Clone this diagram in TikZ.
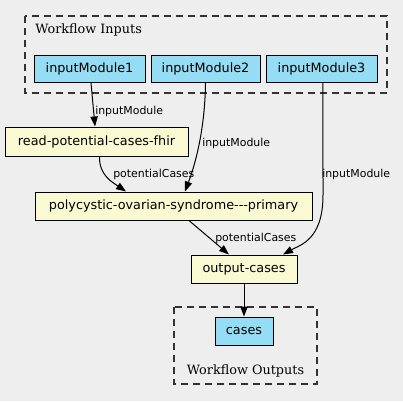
\documentclass[tikz,border=0pt]{standalone}
\usepackage{fontspec}
\setmainfont{DejaVu Sans}
\newfontfamily\titlefont{DejaVu Serif}
\usetikzlibrary{arrows.meta,calc}
\definecolor{bg}{HTML}{EEEEEE}
\definecolor{inblue}{HTML}{94DDF4}
\definecolor{stepyel}{HTML}{FAFAD2}
\definecolor{edgegray}{HTML}{333333}
\begin{document}
\begin{tikzpicture}[x=0.75pt,y=-0.75pt,
  box/.style={draw=black,line width=0.75pt,inner sep=0pt,font=\fontsize{9.6pt}{11pt}\selectfont},
  inp/.style={box,fill=inblue},
  stepbox/.style={box,fill=stepyel},
  cluster/.style={draw=edgegray,line width=0.9pt,dash pattern=on 5.25pt off 3.75pt},
  e/.style={draw=black,line width=0.75pt,-{Triangle[length=7.5pt,width=5.5pt]}},
  lbl/.style={font=\fontsize{8.2pt}{10pt}\selectfont,inner sep=0pt,anchor=west},
  ttl/.style={font=\titlefont\fontsize{9.6pt}{11pt}\selectfont,inner sep=0pt}]
\fill[bg] (0,0) rectangle (403,401);
\useasboundingbox (0,0) rectangle (403,401);
% clusters
\draw[cluster] (25,16) rectangle (387,93);
\node[ttl,anchor=west] (tin) at (35,29.5) {Workflow Inputs};
\draw[cluster] (174,307) rectangle (317,384);
\node[ttl] (tout) at (245.5,370.5) {Workflow Outputs};
% nodes
\node[inp,minimum width=83.25pt,minimum height=20.25pt] (im1) at (89.5,68.5) {inputModule1};
\node[inp,minimum width=81.75pt,minimum height=20.25pt] (im2) at (205.5,68.5) {inputModule2};
\node[inp,minimum width=83.25pt,minimum height=20.25pt] (im3) at (321.5,68.5) {inputModule3};
\node[stepbox,minimum width=137.25pt,minimum height=21.75pt] (read) at (96.5,141.5) {read-potential-cases-fhir};
\node[stepbox,minimum width=207.75pt,minimum height=21pt] (poly) at (173.5,206) {polycystic-ovarian-syndrome-{}-{}-primary};
\node[stepbox,minimum width=79.5pt,minimum height=21pt] (out) at (244,269) {output-cases};
\node[inp,minimum width=43.5pt,minimum height=21pt] (cases) at (244,331) {cases};
% edges
\draw[e] ([xshift=1.1pt]im1.south) -- ([xshift=-1.1pt]read.north);
\draw[e] (im2.south) .. controls (205,130) and (195,165) .. ([xshift=8.6pt]poly.north);
\draw[e] ([xshift=1.1pt]im3.south) -- (323,195) .. controls (323,240) and (300,245) .. ([xshift=29.25pt]out.north);
\draw[e] ([xshift=2.25pt]read.south) .. controls (99,175) and (112,182) .. ([xshift=-35.6pt]poly.north);
\draw[e] ([xshift=11.6pt]poly.south) -- ([xshift=-11.25pt]out.north);
\draw[e] (out.south) -- (cases.north);
% labels
\node[lbl] (l1) at (95,111) {inputModule};
\node[lbl] (l2) at (202,143) {inputModule};
\node[lbl] (l3) at (322,174) {inputModule};
\node[lbl] (l4) at (113,174) {potentialCases};
\node[lbl] (l5) at (215,238) {potentialCases};
\end{tikzpicture}
\end{document}
